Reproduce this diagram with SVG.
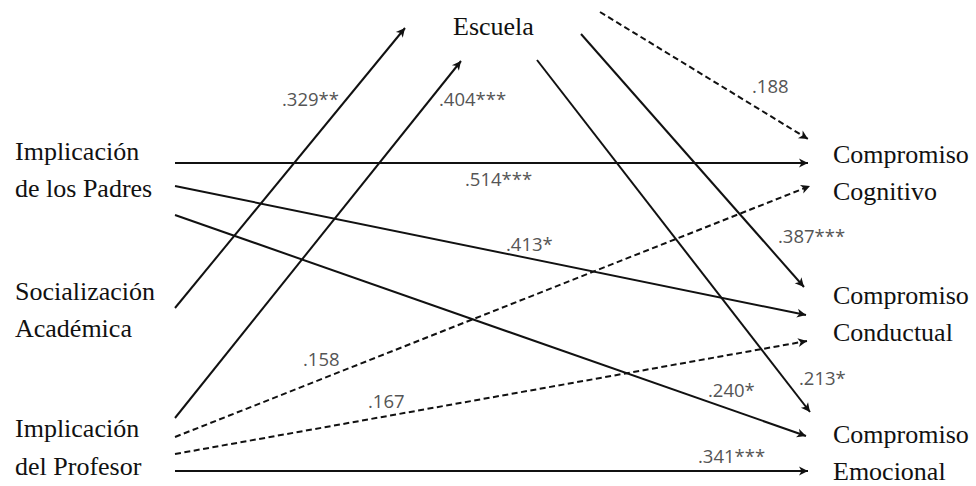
<svg xmlns="http://www.w3.org/2000/svg" width="976" height="486" viewBox="0 0 976 486">
<style>
.lbl{font-family:'Open Sans',sans-serif;font-size:18.5px;fill:#555}
.ln{stroke:#111;stroke-width:2;fill:none;marker-end:url(#ah)}
.d{stroke-dasharray:6 3.5}
</style>
<defs>
<marker id="ah" markerUnits="userSpaceOnUse" markerWidth="12" markerHeight="12" viewBox="0 0 12 12" refX="10" refY="6" orient="auto">
<path d="M1,1.5 L10,6 L1,10.5 L3.5,6 Z" fill="#111"/>
</marker>
</defs>
<rect width="976" height="486" fill="#fff"/>
<g id="edges">
<line class="ln" x1="175" y1="308" x2="405" y2="28"/>
<line class="ln" x1="175" y1="418" x2="461" y2="61"/>
<line class="ln" x1="175" y1="163" x2="808" y2="163"/>
<line class="ln" x1="175" y1="186" x2="806" y2="315"/>
<line class="ln" x1="175" y1="215" x2="806" y2="436"/>
<line class="ln d" x1="600" y1="12" x2="808" y2="139"/>
<line class="ln" x1="581" y1="34" x2="804" y2="287"/>
<line class="ln" x1="537" y1="60" x2="810" y2="412"/>
<line class="ln d" x1="175" y1="437" x2="810" y2="186"/>
<line class="ln d" x1="175" y1="454" x2="807" y2="341"/>
<line class="ln" x1="175" y1="471" x2="808" y2="471"/>
<text class="lbl" x="282" y="106">.329**</text>
<text class="lbl" x="439" y="106">.404***</text>
<text class="lbl" x="465" y="186">.514***</text>
<text class="lbl" x="752" y="93">.188</text>
<text class="lbl" x="778" y="243">.387***</text>
<text class="lbl" x="506" y="251">.413*</text>
<text class="lbl" x="303" y="366">.158</text>
<text class="lbl" x="368" y="408">.167</text>
<text class="lbl" x="708" y="397">.240*</text>
<text class="lbl" x="799" y="385">.213*</text>
<text class="lbl" x="698" y="463">.341***</text>
</g>
<g id="padres"><text style="font-family:'Liberation Serif','Times New Roman',serif !important;font-size:26px;fill:#111" x="15" y="160">Implicación</text><text style="font-family:'Liberation Serif','Times New Roman',serif !important;font-size:26px;fill:#111" x="15" y="197">de los Padres</text></g>
<g id="socializacion"><text style="font-family:'Liberation Serif','Times New Roman',serif !important;font-size:26px;fill:#111" x="15" y="300">Socialización</text><text style="font-family:'Liberation Serif','Times New Roman',serif !important;font-size:26px;fill:#111" x="15" y="337">Académica</text></g>
<g id="profesor"><text style="font-family:'Liberation Serif','Times New Roman',serif !important;font-size:26px;fill:#111" x="15" y="437">Implicación</text><text style="font-family:'Liberation Serif','Times New Roman',serif !important;font-size:26px;fill:#111" x="15" y="475">del Profesor</text></g>
<g id="escuela"><text style="font-family:'Liberation Serif','Times New Roman',serif !important;font-size:26px;fill:#111" x="453" y="35">Escuela</text></g>
<g id="cognitivo"><text style="font-family:'Liberation Serif','Times New Roman',serif !important;font-size:26px;fill:#111" x="833" y="163">Compromiso</text><text style="font-family:'Liberation Serif','Times New Roman',serif !important;font-size:26px;fill:#111" x="833" y="200">Cognitivo</text></g>
<g id="conductual"><text style="font-family:'Liberation Serif','Times New Roman',serif !important;font-size:26px;fill:#111" x="833" y="304">Compromiso</text><text style="font-family:'Liberation Serif','Times New Roman',serif !important;font-size:26px;fill:#111" x="833" y="341">Conductual</text></g>
<g id="emocional"><text style="font-family:'Liberation Serif','Times New Roman',serif !important;font-size:26px;fill:#111" x="833" y="443">Compromiso</text><text style="font-family:'Liberation Serif','Times New Roman',serif !important;font-size:26px;fill:#111" x="833" y="480">Emocional</text></g>
</svg>
